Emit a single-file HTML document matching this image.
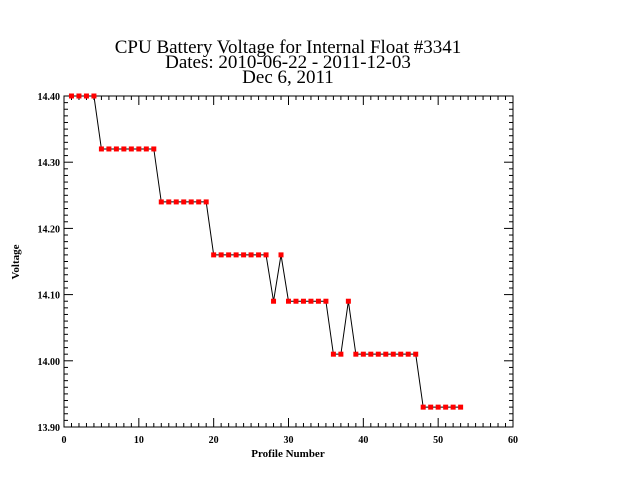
<!DOCTYPE html>
<html><head><meta charset="utf-8"><style>
body{margin:0;background:#fff;width:640px;height:480px;overflow:hidden}
svg{display:block}
text{font-family:"Liberation Serif",serif;fill:#000}
</style></head><body>
<svg id="chart" width="640" height="480" viewBox="0 0 640 480">
<text x="288" y="53" font-size="19" text-anchor="middle">CPU Battery Voltage for Internal Float #3341</text>
<text x="288" y="68" font-size="19" text-anchor="middle">Dates:  2010-06-22 -  2011-12-03</text>
<text x="288" y="83" font-size="19" text-anchor="middle">Dec  6, 2011</text>
<text x="288" y="457" font-size="11" font-weight="bold" text-anchor="middle">Profile Number</text>
<text x="0" y="0" font-size="11" font-weight="bold" text-anchor="middle" transform="translate(19,262) rotate(-90)">Voltage</text>
<rect x="64" y="96" width="449" height="331" fill="none" stroke="#000" stroke-width="1"/>
<g id="axes"></g>
<g id="series"></g>
</svg>
<script>
const profiles=[1,2,3,4,5,6,7,8,9,10,11,12,13,14,15,16,17,18,19,20,21,22,23,24,25,26,27,28,29,30,31,32,33,34,35,36,37,38,39,40,41,42,43,44,45,46,47,48,49,50,51,52,53];
const voltages=[14.40,14.40,14.40,14.40,14.32,14.32,14.32,14.32,14.32,14.32,14.32,14.32,14.24,14.24,14.24,14.24,14.24,14.24,14.24,14.16,14.16,14.16,14.16,14.16,14.16,14.16,14.16,14.09,14.16,14.09,14.09,14.09,14.09,14.09,14.09,14.01,14.01,14.09,14.01,14.01,14.01,14.01,14.01,14.01,14.01,14.01,14.01,13.93,13.93,13.93,13.93,13.93,13.93];
const xTicks=[0,10,20,30,40,50,60];
const yTicks=["13.90","14.00","14.10","14.20","14.30","14.40"];
const X0=64,X1=513,Y0=427,Y1=96;
const xMin=0,xMax=60,yMin=13.9,yMax=14.4;
const sx=v=>X0+(v-xMin)/(xMax-xMin)*(X1-X0);
const sy=v=>Y0-(v-yMin)/(yMax-yMin)*(Y0-Y1);
const NS="http://www.w3.org/2000/svg";
const axes=document.getElementById('axes'),series=document.getElementById('series');
function ln(g,x1,y1,x2,y2,name){const l=document.createElementNS(NS,'line');
l.setAttribute('x1',x1);l.setAttribute('y1',y1);l.setAttribute('x2',x2);l.setAttribute('y2',y2);
l.setAttribute('stroke','#000');l.setAttribute('stroke-width','1');


g.appendChild(l);}
function tx(g,x,y,s,anchor,name){const t=document.createElementNS(NS,'text');
t.setAttribute('x',x);t.setAttribute('y',y);t.setAttribute('font-size','10');t.setAttribute('font-weight','bold');t.setAttribute('text-anchor',anchor);t.textContent=s;


g.appendChild(t);}
for(let v=xMin;v<=xMax;v++){const x=sx(v);const major=v%10===0;const L=major?9:4;
ln(axes,x,Y0,x,Y0-L,'x-tick');ln(axes,x,Y1,x,Y1+L,'x-tick-top');}
xTicks.forEach(v=>tx(axes,sx(v),443,String(v),'middle','x-tick-label'));
for(let i=0;i<=50;i++){const v=yMin+i*0.01;const y=sy(v);const major=i%10===0;const L=major?9:4;
ln(axes,X0,y,X0+L,y,'y-tick');ln(axes,X1,y,X1-L,y,'y-tick-right');}
yTicks.forEach(s=>tx(axes,60,sy(parseFloat(s))+4,s,'end','y-tick-label'));
const pl=document.createElementNS(NS,'polyline');
pl.setAttribute('points',profiles.map((p,i)=>sx(p)+','+sy(voltages[i])).join(' '));
pl.setAttribute('fill','none');pl.setAttribute('stroke','#000');pl.setAttribute('stroke-width','1');


series.appendChild(pl);
profiles.forEach((p,i)=>{const r=document.createElementNS(NS,'rect');
r.setAttribute('x',sx(p)-2.5);r.setAttribute('y',sy(voltages[i])-2.5);r.setAttribute('width',5);r.setAttribute('height',5);r.setAttribute('fill','#ff0000');


series.appendChild(r);});
</script>
</body></html>
